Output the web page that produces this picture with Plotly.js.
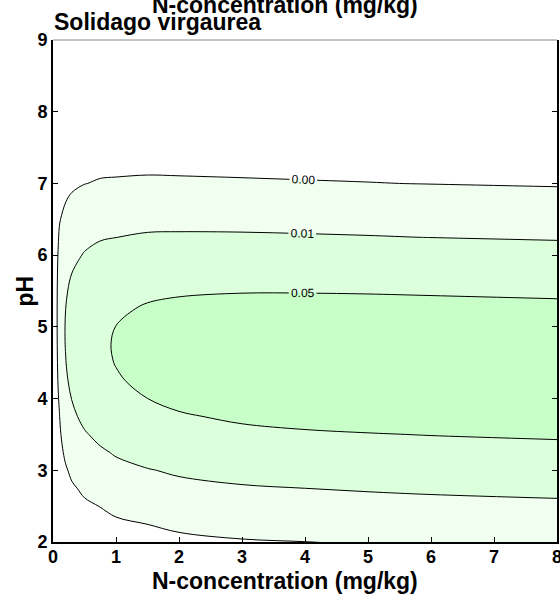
<!DOCTYPE html>
<html><head><meta charset="utf-8">
<script src="https://cdn.plot.ly/plotly-3.0.1.min.js"></script>
<style>html,body{margin:0;padding:0;background:#fff}#chart{width:560px;height:597px}</style>
</head><body><div id="chart"></div>
<script>
// N-concentration (mg/kg) grid
const nConc = [0, 0.05, 0.1, 0.2, 0.3, 0.5, 0.75, 1, 1.5, 2, 3, 4, 5, 6, 8];
// pH grid
const pH = [1.75, 2, 2.25, 2.5, 2.75, 3, 3.25, 3.5, 3.75, 4, 4.25, 4.5, 4.75, 5, 5.25, 5.5, 5.75, 6, 6.25, 6.5, 6.75, 7, 7.25, 7.5, 8, 9];
// occurrence probability, one row per pH value
const zRow175 = [0,0,0,0.00001,0.00002,0.00004,0.00006,0.00009,0.00015,0.00021,0.00031,0.00038,0.00044,0.0005,0.00061];
const zRow200 = [0,0,0,0.00002,0.00005,0.0001,0.00017,0.00026,0.0004,0.00056,0.00081,0.00098,0.00112,0.00126,0.00152];
const zRow225 = [0,0,0.00001,0.00006,0.00013,0.00027,0.00044,0.00066,0.00101,0.00138,0.00194,0.00234,0.00264,0.00293,0.00345];
const zRow250 = [0,0,0.00002,0.00016,0.00032,0.00064,0.00104,0.00153,0.00231,0.0031,0.00426,0.00506,0.00565,0.00622,0.00719];
const zRow275 = [0,0,0.00006,0.00036,0.00071,0.00141,0.00226,0.00325,0.00484,0.00637,0.00856,0.01002,0.01107,0.01205,0.01369];
const zRow300 = [0,0,0.00013,0.00075,0.00146,0.00284,0.00448,0.00633,0.00924,0.01195,0.01571,0.01813,0.01981,0.02133,0.0238];
const zRow325 = [0,0,0.00026,0.00144,0.00273,0.00521,0.00811,0.01124,0.01612,0.02049,0.02635,0.02998,0.03241,0.03452,0.03783];
const zRow350 = [0,0,0.00048,0.00251,0.00466,0.00873,0.01341,0.01826,0.02572,0.0321,0.04039,0.0453,0.04844,0.05104,0.05493];
const zRow375 = [0,0,0.00083,0.00401,0.00728,0.01339,0.02026,0.0271,0.03748,0.04595,0.05658,0.06254,0.06617,0.06897,0.0729];
const zRow400 = [0,0,0.0013,0.00585,0.01038,0.01876,0.02798,0.03675,0.04992,0.06011,0.07243,0.07891,0.08259,0.08516,0.08841];
const zRow425 = [0,0,0.00185,0.00778,0.01354,0.02401,0.0353,0.04554,0.06076,0.07185,0.08472,0.09099,0.09421,0.0961,0.09797];
const zRow450 = [0,0,0.00243,0.00947,0.01612,0.02809,0.0407,0.05157,0.06758,0.07848,0.09056,0.09587,0.09819,0.09909,0.09922];
const zRow475 = [0,0,0.0029,0.01054,0.01755,0.03002,0.04289,0.05337,0.06868,0.07834,0.08847,0.09231,0.09353,0.09336,0.09182];
const zRow500 = [0,0,0.00317,0.01071,0.01745,0.02933,0.04129,0.05047,0.06379,0.07146,0.07897,0.08122,0.08141,0.08039,0.07765];
const zRow525 = [0,0,0.00316,0.00995,0.01586,0.02618,0.03633,0.04361,0.05414,0.05957,0.06442,0.06531,0.06475,0.06325,0.06001];
const zRow550 = [0,0,0.00288,0.00844,0.01317,0.02135,0.02921,0.03444,0.04199,0.04537,0.04802,0.04798,0.04707,0.04548,0.04238];
const zRow575 = [0,0,0.0024,0.00655,0.01,0.01592,0.02147,0.02485,0.02976,0.03158,0.03271,0.03222,0.03126,0.02988,0.02735];
const zRow600 = [0,0,0.00183,0.00464,0.00693,0.01084,0.01441,0.01639,0.01927,0.02009,0.02036,0.01977,0.01897,0.01794,0.01613];
const zRow625 = [0,0,0.00127,0.00301,0.0044,0.00675,0.00884,0.00988,0.01141,0.01168,0.01158,0.01108,0.01052,0.00985,0.00869];
const zRow650 = [0,0,0.00081,0.00178,0.00255,0.00384,0.00496,0.00544,0.00617,0.0062,0.00602,0.00568,0.00533,0.00494,0.00428];
const zRow675 = [0,0,0.00047,0.00096,0.00135,0.002,0.00254,0.00274,0.00305,0.00301,0.00286,0.00266,0.00247,0.00226,0.00193];
const zRow700 = [0,0,0.00025,0.00048,0.00065,0.00095,0.00119,0.00126,0.00138,0.00134,0.00124,0.00114,0.00105,0.00095,0.00079];
const zRow725 = [0,0,0.00012,0.00021,0.00029,0.00041,0.00051,0.00053,0.00057,0.00054,0.00049,0.00044,0.0004,0.00036,0.0003];
const zRow750 = [0,0,0.00005,0.00009,0.00012,0.00016,0.0002,0.0002,0.00021,0.0002,0.00018,0.00016,0.00014,0.00013,0.0001];
const zRow800 = [0,0,0.00001,0.00001,0.00001,0.00002,0.00002,0.00002,0.00002,0.00002,0.00002,0.00002,0.00001,0.00001,0.00001];
const zRow900 = [0,0,0,0,0,0,0,0,0,0,0,0,0,0,0];
// contour levels and their fills
const levels = [0.001, 0.01, 0.05];
const levelFills = ['#f0fff0', '#dcffdc', '#c8ffc8'];
// ticks
const xTicks = [0, 1, 2, 3, 4, 5, 6, 7, 8];
const yTicks = [2, 3, 4, 5, 6, 7, 8, 9];

const zGrid = [zRow175, zRow200, zRow225, zRow250, zRow275, zRow300, zRow325, zRow350, zRow375, zRow400,
  zRow425, zRow450, zRow475, zRow500, zRow525, zRow550, zRow575, zRow600, zRow625, zRow650,
  zRow675, zRow700, zRow725, zRow750, zRow800, zRow900];

const FONT = 'Liberation Sans, Arial, Helvetica, sans-serif';

// Plotly shades the region excluded by the constraint, so '<' shades z > level
const traces = levels.map((lv, i) => ({
  type: 'contour',
  x: nConc, y: pH, z: zGrid,
  contours: {
    type: 'constraint', operation: '<', value: lv,
    showlabels: true, labelformat: '.2f',
    labelfont: {family: FONT, size: 12, color: '#000'}
  },
  fillcolor: levelFills[i],
  line: {color: '#000', width: 1, smoothing: 1},
  showscale: false, hoverinfo: 'skip', showlegend: false
}));

const axisCommon = {
  showgrid: false, zeroline: false, ticks: 'inside', ticklen: 5, tickwidth: 1,
  tickcolor: '#000', showline: true, linecolor: '#000', linewidth: 2,
  ticklabeloverflow: 'allow',
  tickfont: {family: FONT, size: 18, color: '#000', weight: 'bold'}
};

const layout = {
  width: 560, height: 597,
  margin: {l: 53, r: 3, t: 40, b: 55, pad: 0},
  paper_bgcolor: '#fff', plot_bgcolor: '#fff',
  showlegend: false,
  xaxis: Object.assign({}, axisCommon, {range: [0, 8], tickvals: xTicks, ticktext: xTicks.map(String), mirror: false, ticklabelstandoff: -3}),
  yaxis: Object.assign({}, axisCommon, {range: [2, 9], tickvals: yTicks, ticktext: yTicks.map(String), mirror: 'ticks'}),
  shapes: [
    {type: 'line', xref: 'paper', yref: 'paper', x0: 0, x1: 1, y0: 1, y1: 1, layer: 'above',
     line: {color: '#8a8a8a', width: 1}}
  ],
  annotations: [
    {text: 'N-concentration (mg/kg)', xref: 'paper', yref: 'paper', x: 0.46, y: 1, xanchor: 'center', yanchor: 'middle', yshift: 35.5,
     showarrow: false, font: {family: FONT, size: 23, color: '#000', weight: 'bold'}},
    {text: 'Solidago virgaurea', xref: 'paper', yref: 'paper', x: 0, y: 1, xanchor: 'left', yanchor: 'middle', yshift: 18, xshift: -1,
     showarrow: false, font: {family: FONT, size: 23, color: '#000', weight: 'bold'}},
    {text: 'N-concentration (mg/kg)', xref: 'paper', yref: 'paper', x: 0.46, y: 0, xanchor: 'center', yanchor: 'middle', yshift: -38.5,
     showarrow: false, font: {family: FONT, size: 23, color: '#000', weight: 'bold'}},
    {text: 'pH', xref: 'paper', yref: 'paper', x: 0, y: 0.5, xanchor: 'center', yanchor: 'middle', xshift: -28.5, textangle: -90,
     showarrow: false, font: {family: FONT, size: 23, color: '#000', weight: 'bold'}}
  ]
};

Plotly.newPlot('chart', traces, layout, {staticPlot: true, displayModeBar: false});
</script></body></html>
